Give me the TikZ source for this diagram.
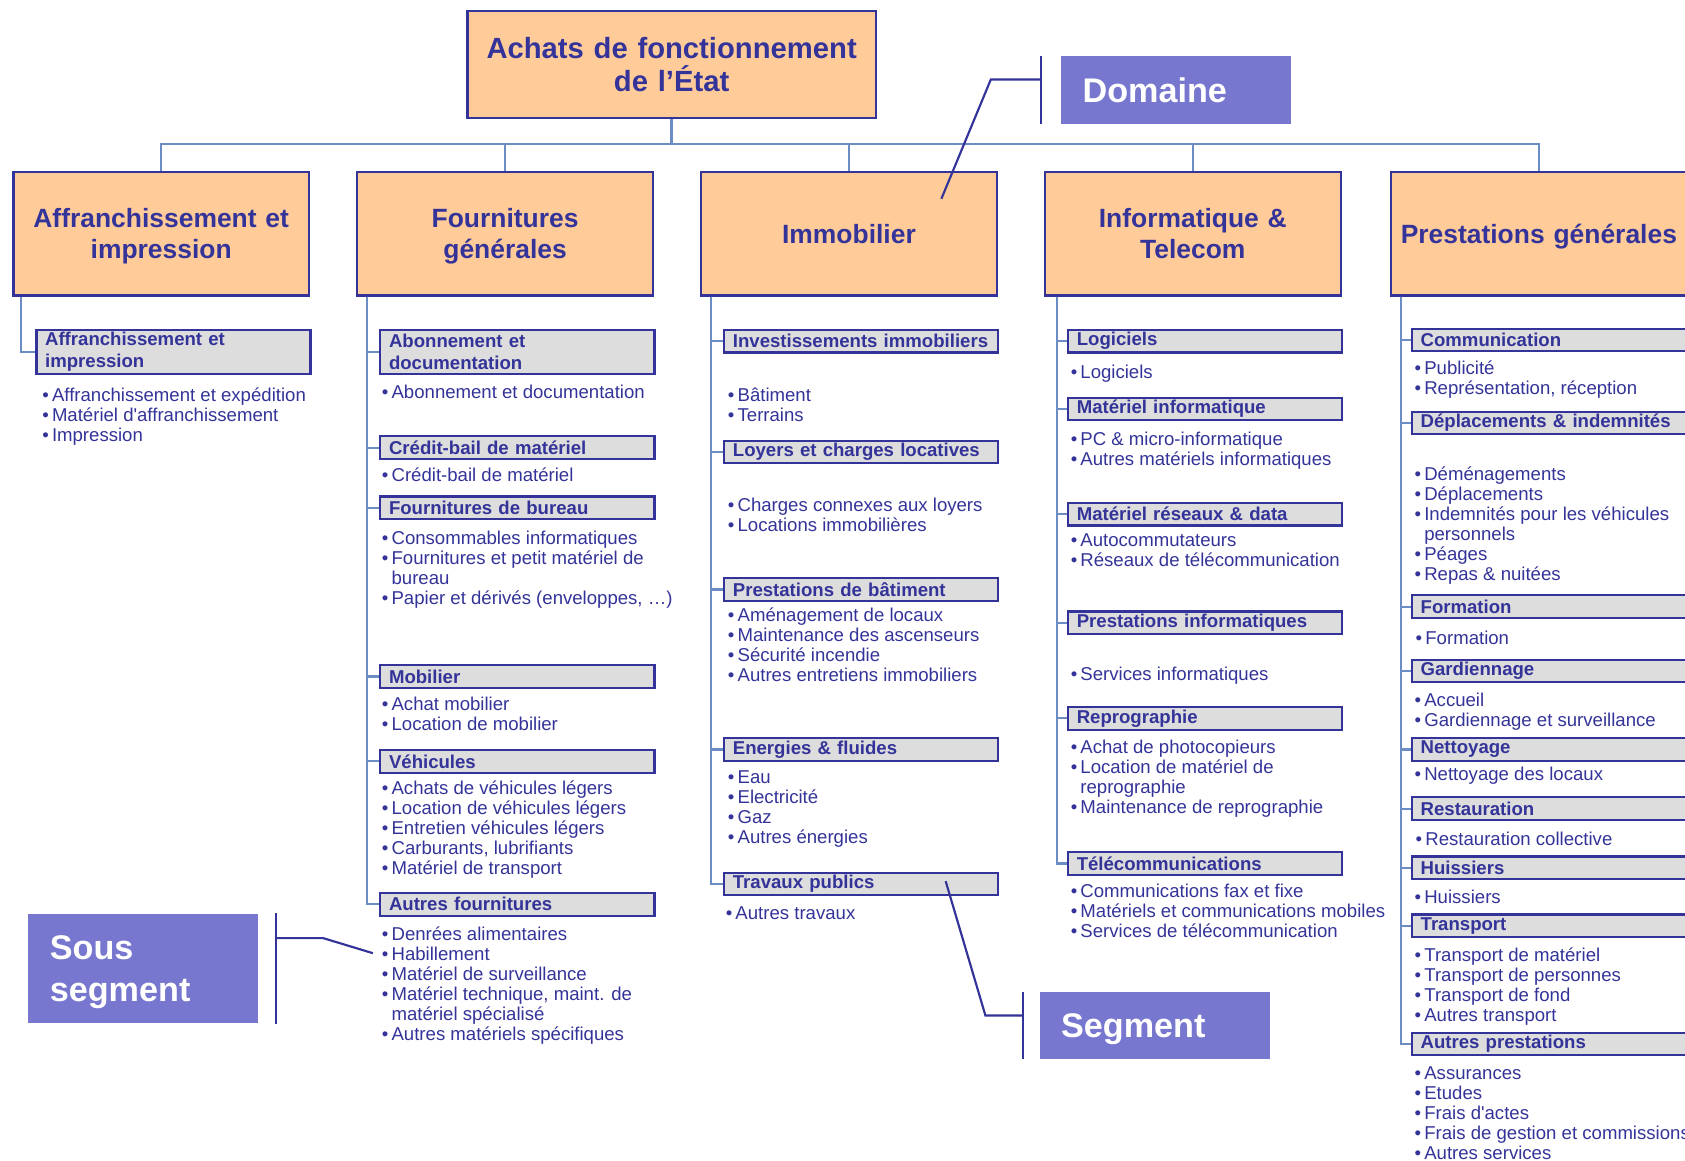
\documentclass[tikz,border=0pt]{standalone}
\usepackage{fontspec}
\setmainfont{Liberation Sans}
\definecolor{navy}{RGB}{51,51,153}
\definecolor{peach}{RGB}{255,204,153}
\definecolor{lblue}{RGB}{108,140,196}
\definecolor{greybox}{RGB}{221,221,221}
\definecolor{lilac}{RGB}{119,119,207}
\newcommand\bpt{\rule{0pt}{7pt}\makebox[4.5pt][l]{•}}
\newcommand\bcont{\hspace*{4.5pt}}
\newcommand\nd[1]{\raisebox{0pt}[\height][0pt]{#1}}
\begin{document}
\begin{tikzpicture}
[x=0.5pt, y=-0.5pt,
root/.style={rectangle, draw=navy, fill=peach, line width=1pt, minimum width=190pt, minimum height=50pt, text width=180pt, align=center, text=navy, font=\bfseries\fontsize{13.6}{15.5}\selectfont},
dom/.style={rectangle, draw=navy, fill=peach, line width=1pt, minimum width=137.5pt, minimum height=57.5pt, text width=130pt, align=center, text=navy, font=\bfseries\fontsize{12.3}{14.5}\selectfont},
seg/.style={rectangle, draw=navy, fill=greybox, line width=1pt, anchor=north west, minimum width=127.5pt, minimum height=10.5pt, text width=119.5pt, inner xsep=4pt, inner ysep=0pt, align=left, text=navy, font=\bfseries\fontsize{8.65}{10}\selectfont},
seg2/.style={seg, minimum height=20.5pt},
lst/.style={anchor=north west, inner sep=0pt, align=left, text=navy, font=\fontsize{8.65}{9.3}\selectfont},
lbl/.style={rectangle, fill=lilac, anchor=north west, minimum width=107pt, minimum height=31.5pt, text width=87pt, inner xsep=10pt, align=left, text=white, font=\bfseries\fontsize{15.9}{19.5}\selectfont},
bus/.style={draw=lblue, line width=1.2pt},
trunk/.style={draw=lblue, line width=1pt},
leader/.style={draw=navy, line width=1pt},
]
\useasboundingbox (0,0) rectangle (1568,1080);

% domaine
\node at (625,60) [root] (root) {Achats de fonctionnement\\de l’État};
\node at (150,217.5) [dom] (d1) {Affranchissement et\\\nd{impression}};
\node at (470,217.5) [dom] (d2) {Fournitures\\\nd{générales}};
\node at (790,217.5) [dom] (d3) {Immobilier};
\node at (1110,217.5) [dom] (d4) {Informatique \&\\\nd{Telecom}};
\node at (1432,217.5) [dom] (d5) {\nd{Prestations générales}};

\foreach \d in {d1,d2,d3,d4,d5}
  \draw[bus] (root.south) |- ([yshift=12.5pt]\d.north) -- (\d.north);

% segments
\node at (33,306) [seg2] (s1a) {Affranchissement et\\impression};

\node at (353,306) [seg2] (s2a) {Abonnement et\\documentation};
\node at (353,405) [seg] (s2b) {Crédit-bail de matériel};
\node at (353,461) [seg] (s2c) {Fournitures de bureau};
\node at (353,618) [seg] (s2d) {Mobilier};
\node at (353,697) [seg] (s2e) {Véhicules};
\node at (353,830) [seg] (s2f) {Autres fournitures};

\node at (673,306) [seg] (s3a) {Investissements immobiliers};
\node at (673,409) [seg] (s3b) {Loyers et charges locatives};
\node at (673,537) [seg] (s3c) {Prestations de bâtiment};
\node at (673,686) [seg] (s3d) {Energies \& fluides};
\node at (673,811) [seg] (s3e) {Travaux publics};

\node at (993,306) [seg] (s4a) {Logiciels};
\node at (993,369) [seg] (s4b) {Matériel informatique};
\node at (993,467) [seg] (s4c) {Matériel réseaux \& data};
\node at (993,568) [seg] (s4d) {Prestations informatiques};
\node at (993,657) [seg] (s4e) {Reprographie};
\node at (993,792) [seg] (s4f) {Télécommunications};

\node at (1313,305) [seg] (s5a) {Communication};
\node at (1313,382) [seg] (s5b) {Déplacements \& indemnités};
\node at (1313,553) [seg] (s5c) {Formation};
\node at (1313,613) [seg] (s5d) {Gardiennage};
\node at (1313,686) [seg] (s5e) {Nettoyage};
\node at (1313,741) [seg] (s5f) {Restauration};
\node at (1313,796) [seg] (s5g) {Huissiers};
\node at (1313,850) [seg] (s5h) {Transport};
\node at (1313,960) [seg] (s5i) {Autres prestations};

\draw[trunk] ([xshift=4pt]d1.south west) |- (s1a.west);
\foreach \s in {s2a,s2b,s2c,s2d,s2e,s2f}
  \draw[trunk] ([xshift=5pt]d2.south west) |- (\s.west);
\foreach \s in {s3a,s3b,s3c,s3d,s3e}
  \draw[trunk] ([xshift=5pt]d3.south west) |- (\s.west);
\foreach \s in {s4a,s4b,s4c,s4d,s4e,s4f}
  \draw[trunk] ([xshift=6pt]d4.south west) |- (\s.west);
\foreach \s in {s5a,s5b,s5c,s5d,s5e,s5f,s5g,s5h,s5i}
  \draw[trunk] ([xshift=5pt]d5.south west) |- (\s.west);

% sous segments
\node at (39,359) [lst] (l1a) {\bpt Affranchissement et expédition\\\bpt Matériel d\textquotesingle affranchissement\\\bpt Impression};

\node at (355,356) [lst] (l2a) {\bpt Abonnement et documentation};
\node at (355,434) [lst] (l2b) {\bpt Crédit-bail de matériel};
\node at (355,492) [lst] (l2c) {\bpt Consommables informatiques\\\bpt Fournitures et petit matériel de\\\bcont bureau\\\bpt Papier et dérivés (enveloppes, …)};
\node at (355,647) [lst] (l2d) {\bpt Achat mobilier\\\bpt Location de mobilier};
\node at (355,725) [lst] (l2e) {\bpt Achats de véhicules légers\\\bpt Location de véhicules légers\\\bpt Entretien véhicules légers\\\bpt Carburants, lubrifiants\\\bpt Matériel de transport};
\node at (355,861) [lst] (l2f) {\bpt Denrées alimentaires\\\bpt Habillement\\\bpt Matériel de surveillance\\\bpt Matériel technique, maint. de\\\bcont matériel spécialisé\\\bpt Autres matériels spécifiques};

\node at (677,359) [lst] (l3a) {\bpt Bâtiment\\\bpt Terrains};
\node at (677,462) [lst] (l3b) {\bpt Charges connexes aux loyers\\\bpt Locations immobilières};
\node at (677,564) [lst] (l3c) {\bpt Aménagement de locaux\\\bpt Maintenance des ascenseurs\\\bpt Sécurité incendie\\\bpt Autres entretiens immobiliers};
\node at (677,715) [lst] (l3d) {\bpt Eau\\\bpt Electricité\\\bpt Gaz\\\bpt Autres énergies};
\node at (675,841) [lst] (l3e) {\bpt Autres travaux};

\node at (996,338) [lst] (l4a) {\bpt Logiciels};
\node at (996,400) [lst] (l4b) {\bpt PC \& micro-informatique\\\bpt Autres matériels informatiques};
\node at (996,494) [lst] (l4c) {\bpt Autocommutateurs\\\bpt Réseaux de télécommunication};
\node at (996,619) [lst] (l4d) {\bpt Services informatiques};
\node at (996,687) [lst] (l4e) {\bpt Achat de photocopieurs\\\bpt Location de matériel de\\\bcont reprographie\\\bpt Maintenance de reprographie};
\node at (996,821) [lst] (l4f) {\bpt Communications fax et fixe\\\bpt Matériels et communications mobiles\\\bpt Services de télécommunication};

\node at (1316,334) [lst] (l5a) {\bpt Publicité\\\bpt Représentation, réception};
\node at (1316,433) [lst] (l5b) {\bpt Déménagements\\\bpt Déplacements\\\bpt Indemnités pour les véhicules\\\bcont personnels\\\bpt Péages\\\bpt Repas \& nuitées};
\node at (1317,585) [lst] (l5c) {\bpt Formation};
\node at (1316,643) [lst] (l5d) {\bpt Accueil\\\bpt Gardiennage et surveillance};
\node at (1316,712) [lst] (l5e) {\bpt Nettoyage des locaux};
\node at (1317,772) [lst] (l5f) {\bpt Restauration collective};
\node at (1316,826) [lst] (l5g) {\bpt Huissiers};
\node at (1316,880) [lst] (l5h) {\bpt Transport de matériel\\\bpt Transport de personnes\\\bpt Transport de fond\\\bpt Autres transport};
\node at (1316,990) [lst] (l5i) {\bpt Assurances\\\bpt Etudes\\\bpt Frais d\textquotesingle actes\\\bpt Frais de gestion et commissions\\\bpt Autres services};

% legende
\node at (987,52) [lbl] (domlab) {Domaine};
\node at (967,923) [lbl, minimum height=31pt] (seglab) {\nd{Segment}};
\node at (26,850) [lbl, minimum height=51pt] (sslab) {Sous\\\nd{segment}};

\coordinate (domtip) at (876,185);
\coordinate (segtip) at (880,820);
\coordinate (sstip) at (347,887);

\draw[leader] ([xshift=-9pt]domlab.north west) -- ([xshift=-9pt]domlab.south west);
\draw[leader] ([xshift=-9pt,yshift=-11pt]domlab.north west) -- ++(-23.5pt,0) -- (domtip);
\draw[leader] ([xshift=-7.5pt]seglab.north west) -- ([xshift=-7.5pt]seglab.south west);
\draw[leader] ([xshift=-7.5pt,yshift=-11pt]seglab.north west) -- ++(-17.5pt,0) -- (segtip);
\draw[leader] ([xshift=8pt]sslab.north east) -- ([xshift=8pt]sslab.south east);
\draw[leader] ([xshift=8pt,yshift=-11.5pt]sslab.north east) -- ++(22pt,0) -- (sstip);

\end{tikzpicture}
\end{document}
